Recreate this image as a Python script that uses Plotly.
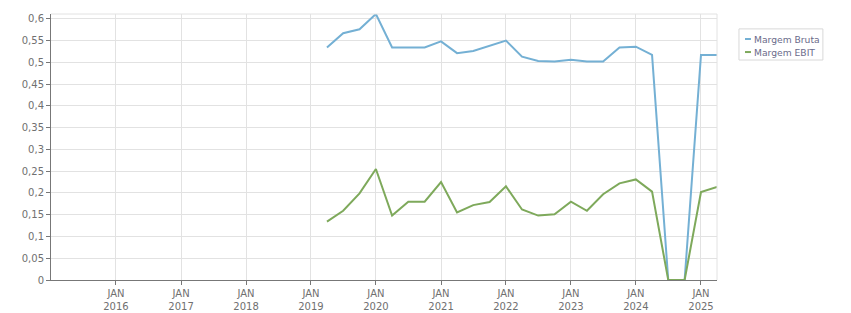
import plotly.graph_objects as go

dates = ["2019-04-01", "2019-07-01", "2019-10-01", "2020-01-01", "2020-04-01", "2020-07-01",
         "2020-10-01", "2021-01-01", "2021-04-01", "2021-07-01", "2021-10-01", "2022-01-01",
         "2022-04-01", "2022-07-01", "2022-10-01", "2023-01-01", "2023-04-01", "2023-07-01",
         "2023-10-01", "2024-01-01", "2024-04-01", "2024-07-01", "2024-10-01", "2025-01-01",
         "2025-04-01"]
margem_bruta = [0.534, 0.567, 0.576, 0.611, 0.534, 0.534, 0.534, 0.548, 0.521, 0.526, 0.538,
                0.550, 0.513, 0.503, 0.502, 0.506, 0.502, 0.502, 0.534, 0.536, 0.517, 0.0,
                0.0, 0.517, 0.517]
margem_ebit = [0.134, 0.159, 0.199, 0.255, 0.148, 0.180, 0.180, 0.225, 0.155, 0.172, 0.179,
               0.215, 0.162, 0.148, 0.151, 0.180, 0.159, 0.197, 0.222, 0.231, 0.203, 0.0,
               0.0, 0.202, 0.214]
series_names = ["Margem Bruta", "Margem EBIT"]
series_colors = ["#74b0d4", "#7ea95b"]
tick_years = list(range(2016, 2026))
tick_vals = [f"{y}-01-01" for y in tick_years]
tick_text = [f"JAN<br>{y}" for y in tick_years]

fig = go.Figure()
for name, vals, col in zip(series_names, [margem_bruta, margem_ebit], series_colors):
    fig.add_trace(go.Scatter(x=dates, y=vals, mode="lines", name=name,
                             line=dict(color=col, width=2)))

axis_font = dict(family="DejaVu Sans, Verdana, sans-serif", size=10, color="#707070")
legend_font = dict(family="DejaVu Sans, Verdana, sans-serif", size=9.2, color="#6a6a8a")

shapes = [
    dict(type="line", xref="paper", yref="paper", x0=0, x1=1, y0=1, y1=1,
         line=dict(color="#e2e2e2", width=1)),
    dict(type="line", xref="paper", yref="paper", x0=1, x1=1, y0=0, y1=1,
         line=dict(color="#e2e2e2", width=1)),
    dict(type="rect", xref="paper", yref="paper", x0=1.033, x1=1.159, y0=0.827, y1=0.944,
         line=dict(color="#d8d8d8", width=1), fillcolor="white"),
]
annotations = []
legend_y = [0.906, 0.857]
for name, col, ly in zip(series_names, series_colors, legend_y):
    shapes.append(dict(type="line", xref="paper", yref="paper", x0=1.042, x1=1.051,
                       y0=ly, y1=ly, line=dict(color=col, width=2)))
    annotations.append(dict(xref="paper", yref="paper", x=1.053, y=ly, text=name,
                            showarrow=False, xanchor="left", yanchor="middle",
                            font=legend_font))

fig.update_layout(
    width=851, height=313,
    margin=dict(l=51, r=134, t=14, b=33),
    paper_bgcolor="white", plot_bgcolor="white",
    separators=",.",
    font=axis_font,
    showlegend=False,
    xaxis=dict(type="date", range=["2015-01-01", "2025-04-01"],
               tickvals=tick_vals, ticktext=tick_text, automargin=False,
               showgrid=True, gridcolor="#e2e2e2", gridwidth=1,
               showline=True, linecolor="#777777", linewidth=1,
               ticks="outside", ticklen=4, tickcolor="#777777",
               tickfont=axis_font, zeroline=False, fixedrange=True),
    yaxis=dict(range=[0, 0.611], dtick=0.05, tick0=0, automargin=False,
               showgrid=True, gridcolor="#e2e2e2", gridwidth=1,
               showline=True, linecolor="#777777", linewidth=1,
               ticks="outside", ticklen=4, tickcolor="#777777",
               tickfont=axis_font, zeroline=False, fixedrange=True),
    shapes=shapes,
    annotations=annotations,
)

fig.write_html("out.html")
